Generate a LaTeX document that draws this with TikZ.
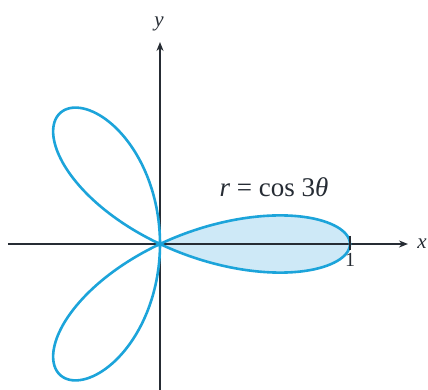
\documentclass[tikz,border=0pt]{standalone}
\usepackage{fontspec}
\setmainfont{Liberation Serif}
\usetikzlibrary{arrows.meta}
\definecolor{ink}{RGB}{38,44,52}
\definecolor{petal}{RGB}{28,164,218}
\definecolor{wash}{RGB}{206,233,247}

\begin{document}
\begin{tikzpicture}[
  x=1pt, y=1pt,
  axis/.style={draw=ink, line width=1.7pt, -{Stealth[length=9pt, width=7pt]}},
  curve/.style={draw=petal, line width=2.6pt, line join=round},
  lab/.style={font=\fontsize{20}{24}\selectfont, text=ink, inner sep=1pt}]

  \useasboundingbox (-160,-146) rectangle (268,244);

  % shaded petal
  \fill[wash] plot[domain=-30:30, samples=80, smooth, variable=\t]
    ({190*cos(3*\t)*cos(\t)}, {155*cos(3*\t)*sin(\t)}) -- cycle;

  \coordinate (o) at (0,0);
  \coordinate (xl) at (-152,0);
  \coordinate (xr) at (248,0);
  \coordinate (yb) at (0,-146);
  \coordinate (yt) at (0,202);
  \draw[axis] (xl) -- (xr);
  \draw[axis] (yb) -- (yt);
  \node[lab, font=\fontsize{21}{24}\selectfont\itshape] (xlab) at (262,0) {x};
  \node[lab, font=\fontsize{21}{24}\selectfont\itshape] (ylab) at (-1,220) {y};

  % the rose
  \draw[curve] plot[domain=0:180, samples=241, smooth, variable=\t]
    ({190*cos(3*\t)*cos(\t)}, {155*cos(3*\t)*sin(\t)}) -- cycle;

  \coordinate (ta) at (190,8);
  \coordinate (tb) at (190,-6);
  \draw[ink, line width=1.7pt] (ta) -- (tb);
  \node[lab] (one) at (190,-16) {1};

  \node[lab, font=\fontsize{27}{30}\selectfont] (eq) at (114,57) {\textit{r} = cos 3\textit{θ}};
\end{tikzpicture}
\end{document}
